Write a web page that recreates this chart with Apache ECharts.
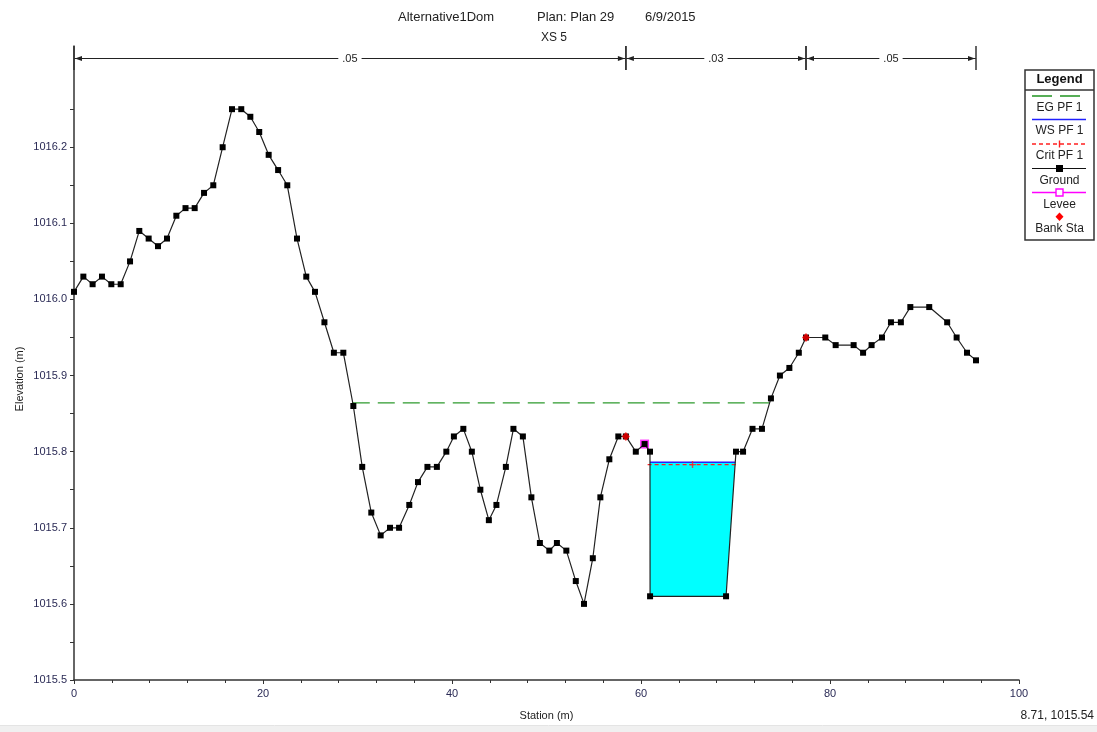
<!DOCTYPE html>
<html><head><meta charset="utf-8">
<script src="https://cdn.jsdelivr.net/npm/echarts@6/dist/echarts.min.js"></script>
<style>html,body{margin:0;padding:0;background:#fff}#c{width:1097px;height:732px}</style>
</head><body><div id="c"></div>
<script>
// ---------------- data ----------------
const groundStation = [0,0.99,1.97,2.96,3.95,4.94,5.93,6.91,7.9,8.89,9.84,10.83,11.8,12.77,13.76,14.74,15.73,16.72,17.7,18.66,19.6,20.6,21.6,22.57,23.6,24.58,25.5,26.5,27.5,28.5,29.56,30.5,31.46,32.45,33.44,34.4,35.48,36.4,37.4,38.4,39.4,40.2,41.2,42.1,43.0,43.9,44.7,45.7,46.5,47.5,48.4,49.3,50.3,51.1,52.1,53.1,53.97,54.9,55.7,56.65,57.6,58.4,59.45,60.38,60.95,60.96,69.0,70.05,70.8,71.8,72.8,73.75,74.7,75.7,76.7,77.46,79.5,80.6,82.5,83.5,84.4,85.5,86.45,87.5,88.5,90.5,92.4,93.4,94.5,95.45];
const groundElev = [1016.01,1016.03,1016.02,1016.03,1016.02,1016.02,1016.05,1016.09,1016.08,1016.07,1016.08,1016.11,1016.12,1016.12,1016.14,1016.15,1016.20,1016.25,1016.25,1016.24,1016.22,1016.19,1016.17,1016.15,1016.08,1016.03,1016.01,1015.97,1015.93,1015.93,1015.86,1015.78,1015.72,1015.69,1015.70,1015.70,1015.73,1015.76,1015.78,1015.78,1015.80,1015.82,1015.83,1015.80,1015.75,1015.71,1015.73,1015.78,1015.83,1015.82,1015.74,1015.68,1015.67,1015.68,1015.67,1015.63,1015.60,1015.66,1015.74,1015.79,1015.82,1015.82,1015.80,1015.81,1015.80,1015.61,1015.61,1015.80,1015.80,1015.83,1015.83,1015.87,1015.90,1015.91,1015.93,1015.95,1015.95,1015.94,1015.94,1015.93,1015.94,1015.95,1015.97,1015.97,1015.99,1015.99,1015.97,1015.95,1015.93,1015.92];
const bankStations = [58.4, 77.46];
const leveeStations = [60.38];
const leveeElevs = [1015.81];
const egElev = 1015.864;
const wsElev = 1015.786;
const critElev = 1015.783;
const nStations = [0, 58.4, 77.46, 95.45];
const nValues = ['.05', '.03', '.05'];
const xLabelValues = [0, 20, 40, 60, 80, 100];
const yLabelValues = [1015.5, 1015.6, 1015.7, 1015.8, 1015.9, 1016.0, 1016.1, 1016.2];
const yTickValues = [1015.5,1015.55,1015.6,1015.65,1015.7,1015.75,1015.8,1015.85,1015.9,1015.95,1016.0,1016.05,1016.1,1016.15,1016.2,1016.25];
const titleParts = ['Alternative1Dom', 'Plan: Plan 29', '6/9/2015'];
const subTitle = 'XS 5';
const cursorText = '8.71, 1015.54';

const Y_MIN = 1015.5, Y_MAX = 1016.333;
const FONT = 'Liberation Sans, Arial, sans-serif';

// ---------- derived from data ----------
const ground = groundStation.map((s, i) => [s, groundElev[i]]);
function interpGround(s) {
  for (let i = 0; i < ground.length - 1; i++) {
    const a = ground[i], b = ground[i + 1];
    if (s >= a[0] && s <= b[0]) {
      if (b[0] === a[0]) return a[1];
      return a[1] + (b[1] - a[1]) * (s - a[0]) / (b[0] - a[0]);
    }
  }
  return ground[ground.length - 1][1];
}
let lowIdx = -1;
for (let i = 0; i < ground.length; i++) {
  if (ground[i][0] > leveeStations[0] && ground[i][0] < bankStations[1]) {
    if (lowIdx < 0 || ground[i][1] < ground[lowIdx][1]) lowIdx = i;
  }
}
function crossing(level, dir) {
  let i = lowIdx;
  while (i + dir >= 0 && i + dir < ground.length && ground[i + dir][1] < level) i += dir;
  const a = ground[i], b = ground[i + dir];
  if (!b) return a[0];
  if (b[0] === a[0]) return a[0];
  return a[0] + (b[0] - a[0]) * (level - a[1]) / (b[1] - a[1]);
}
const egL = crossing(egElev, -1), egR = crossing(egElev, 1);
const wsL = crossing(wsElev, -1), wsR = crossing(wsElev, 1);
const crL = crossing(critElev, -1), crR = crossing(critElev, 1);
const waterPoly = [[wsL, wsElev]].concat(ground.filter(p => p[0] > wsL && p[0] < wsR)).concat([[wsR, wsElev]]);
const bankPts = bankStations.map(s => [s, interpGround(s)]);
const leveePts = leveeStations.map((s, i) => [s, leveeElevs[i]]);
const nSegs = nValues.map((v, i) => [nStations[i], nStations[i + 1]]);

const chart = echarts.init(document.getElementById('c'), null, {renderer: 'canvas'});

// legend graphic (decoration)
const LX = 1025, LW = 69, LC = LX + LW / 2;
const lg = [];
lg.push({type: 'rect', shape: {x: LX, y: 70, width: LW, height: 170}, style: {fill: '#fff', stroke: '#333', lineWidth: 1.5}, z: 100});
lg.push({type: 'text', x: LC, y: 79, style: {text: 'Legend', font: 'bold 13px ' + FONT, fill: '#111', align: 'center', verticalAlign: 'middle'}, z: 101});
lg.push({type: 'line', shape: {x1: LX, y1: 90, x2: LX + LW, y2: 90}, style: {stroke: '#333', lineWidth: 1.5}, z: 101});
function ltext(t, y) { lg.push({type: 'text', x: LC, y: y, style: {text: t, font: '12px ' + FONT, fill: '#222', align: 'center', verticalAlign: 'middle'}, z: 101}); }
lg.push({type: 'line', shape: {x1: LX + 7, y1: 96, x2: LX + 27, y2: 96}, style: {stroke: '#2e9a2e', lineWidth: 1.6}, z: 101});
lg.push({type: 'line', shape: {x1: LX + 35, y1: 96, x2: LX + 55, y2: 96}, style: {stroke: '#2e9a2e', lineWidth: 1.6}, z: 101});
ltext('EG PF 1', 108);
lg.push({type: 'line', shape: {x1: LX + 7, y1: 119.5, x2: LX + 61, y2: 119.5}, style: {stroke: '#2020ff', lineWidth: 1.6}, z: 101});
ltext('WS PF 1', 131);
lg.push({type: 'line', shape: {x1: LX + 7, y1: 144, x2: LX + 61, y2: 144}, style: {stroke: '#ff2020', lineWidth: 1.4, lineDash: [4, 3]}, z: 101});
lg.push({type: 'line', shape: {x1: LC, y1: 140.5, x2: LC, y2: 147.5}, style: {stroke: '#ff2020', lineWidth: 1.4}, z: 101});
ltext('Crit PF 1', 155.5);
lg.push({type: 'line', shape: {x1: LX + 7, y1: 168.5, x2: LX + 61, y2: 168.5}, style: {stroke: '#111', lineWidth: 1.2}, z: 101});
lg.push({type: 'rect', shape: {x: LC - 3.5, y: 165, width: 7, height: 7}, style: {fill: '#000'}, z: 102});
ltext('Ground', 181);
lg.push({type: 'line', shape: {x1: LX + 7, y1: 192.5, x2: LX + 61, y2: 192.5}, style: {stroke: '#ff00ff', lineWidth: 1.4}, z: 101});
lg.push({type: 'rect', shape: {x: LC - 3.5, y: 189, width: 7, height: 7}, style: {fill: '#fff', stroke: '#ff00ff', lineWidth: 1.4}, z: 102});
ltext('Levee', 205);
lg.push({type: 'polygon', shape: {points: [[LC, 212.5], [LC + 4, 216.7], [LC, 221], [LC - 4, 216.7]]}, style: {fill: '#ff0000'}, z: 102});
ltext('Bank Sta', 229);

const titleStyle = {fontSize: 13, fontWeight: 'normal', color: '#222', fontFamily: FONT};
const option = {
  backgroundColor: '#fff',
  animation: false,
  textStyle: {fontFamily: FONT},
  title: [
    {text: titleParts[0], left: 398, top: 11, padding: 0, textStyle: titleStyle},
    {text: titleParts[1], left: 537, top: 11, padding: 0, textStyle: titleStyle},
    {text: titleParts[2], left: 645, top: 11, padding: 0, textStyle: titleStyle},
    {text: subTitle, left: 541, top: 32, padding: 0, textStyle: {fontSize: 12, fontWeight: 'normal', color: '#222', fontFamily: FONT}}
  ],
  grid: {left: 74, right: 78, top: 46, bottom: 52, containLabel: false},
  xAxis: {
    type: 'value', min: 0, max: 100, interval: 20,
    name: 'Station (m)', nameLocation: 'middle', nameGap: 30,
    nameTextStyle: {fontSize: 11, color: '#222', fontFamily: FONT},
    axisLine: {lineStyle: {color: '#333', width: 1.5}},
    axisTick: {length: 4, lineStyle: {color: '#333'}},
    minorTick: {show: true, splitNumber: 5, length: 3, lineStyle: {color: '#333'}},
    splitLine: {show: false},
    axisLabel: {fontSize: 11, color: '#2a2a55', margin: 8, fontFamily: FONT, customValues: xLabelValues}
  },
  yAxis: {
    type: 'value', min: Y_MIN, max: Y_MAX, interval: 0.1,
    axisLine: {show: true, lineStyle: {color: '#333', width: 1.5}},
    axisTick: {show: true, length: 4, lineStyle: {color: '#333'}, customValues: yTickValues},
    splitLine: {show: false},
    axisLabel: {fontSize: 11, color: '#2a2a55', margin: 7, fontFamily: FONT, customValues: yLabelValues,
      formatter: v => (Math.abs(v * 10 - Math.round(v * 10)) < 1e-6 && v < 1016.25) ? v.toFixed(1) : ''}
  },
  graphic: [
    {type: 'text', x: 20, y: 379, rotation: Math.PI / 2, style: {text: 'Elevation (m)', font: '11px ' + FONT, fill: '#222', align: 'center', verticalAlign: 'middle'}},
    {type: 'text', x: 1094, y: 716, style: {text: cursorText, font: '12px ' + FONT, fill: '#222', align: 'right', verticalAlign: 'middle'}},
    {type: 'rect', shape: {x: 0, y: 726, width: 1097, height: 6}, style: {fill: '#f0f0f0'}},
    {type: 'line', shape: {x1: 0, y1: 725.5, x2: 1097, y2: 725.5}, style: {stroke: '#e4e4e4', lineWidth: 1}}
  ].concat(lg),
  series: [
    {
      name: 'Water', type: 'custom', z: 1, silent: true,
      data: [[wsL, wsElev]],
      renderItem: function (params, api) {
        return {type: 'polygon', shape: {points: waterPoly.map(p => api.coord(p))}, style: {fill: '#00ffff'}};
      }
    },
    {
      name: 'EG PF 1', type: 'line', z: 3, symbol: 'none', silent: true,
      data: [[egL, egElev], [egR, egElev]],
      lineStyle: {color: '#2e9a2e', width: 1.3, type: [17, 8]}
    },
    {
      name: 'WS PF 1', type: 'line', z: 3, symbol: 'none', silent: true,
      data: [[wsL, wsElev], [wsR, wsElev]],
      lineStyle: {color: '#2020ff', width: 1.5}
    },
    {
      name: 'Crit PF 1', type: 'line', z: 4, symbol: 'none', silent: true,
      data: [[crL - 0.25, critElev], [crR + 0.25, critElev]],
      lineStyle: {color: '#ff2020', width: 1.2, type: [4, 3]}
    },
    {
      name: 'Crit mark', type: 'scatter', z: 4, silent: true,
      symbol: 'path://M4,0h2v4h4v2h-4v4h-2v-4h-4v-2h4z', symbolSize: 7,
      itemStyle: {color: '#ff2020'},
      data: [[(crL + crR) / 2, critElev]]
    },
    {
      name: 'Levee', type: 'scatter', z: 5, silent: true,
      symbol: 'rect', symbolSize: 9,
      itemStyle: {color: '#ff00ff'},
      data: leveePts
    },
    {
      name: 'Ground', type: 'line', z: 6, silent: true,
      data: ground, symbol: 'rect', symbolSize: 6, showAllSymbol: true,
      lineStyle: {color: '#222', width: 1.2},
      itemStyle: {color: '#000'}
    },
    {
      name: 'Bank Sta', type: 'scatter', z: 7, silent: true,
      symbol: 'diamond', symbolSize: [8, 9],
      itemStyle: {color: '#ff0000'},
      data: bankPts
    },
    {
      name: 'n values', type: 'custom', z: 8, silent: true, clip: false,
      encode: {x: [0, 1]},
      data: nSegs,
      renderItem: function (params, api) {
        const s0 = api.value(0), s1 = api.value(1);
        const p0 = api.coord([s0, Y_MAX]), p1 = api.coord([s1, Y_MAX]);
        const top = p0[1], ly = top + 12.5;
        const c = '#222';
        return {
          type: 'group',
          children: [
            {type: 'line', shape: {x1: p0[0], y1: ly, x2: p1[0], y2: ly}, style: {stroke: c, lineWidth: 1.2}},
            {type: 'polygon', shape: {points: [[p0[0] + 1, ly], [p0[0] + 8, ly - 2.5], [p0[0] + 8, ly + 2.5]]}, style: {fill: c}},
            {type: 'polygon', shape: {points: [[p1[0] - 1, ly], [p1[0] - 8, ly - 2.5], [p1[0] - 8, ly + 2.5]]}, style: {fill: c}},
            {type: 'line', shape: {x1: p0[0], y1: top, x2: p0[0], y2: top + 24}, style: {stroke: '#333', lineWidth: 1.5}},
            {type: 'line', shape: {x1: p1[0], y1: top, x2: p1[0], y2: top + 24}, style: {stroke: '#333', lineWidth: 1.5}},
            {type: 'text', x: (p0[0] + p1[0]) / 2, y: ly, style: {text: nValues[params.dataIndex], font: '11px ' + FONT, fill: '#222', align: 'center', verticalAlign: 'middle', backgroundColor: '#fff', padding: [0, 4]}}
          ]
        };
      }
    }
  ]
};
chart.setOption(option);
</script>
</body></html>
